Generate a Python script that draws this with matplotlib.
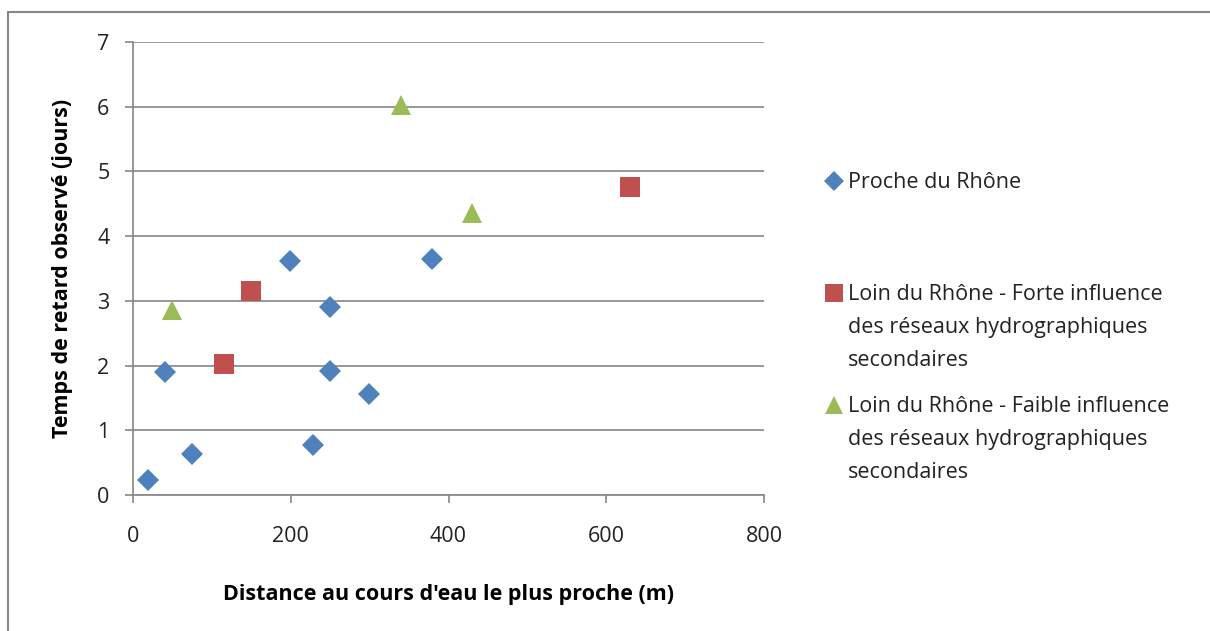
import matplotlib.pyplot as plt
from matplotlib.lines import Line2D
from matplotlib.patches import Rectangle

plt.rcParams['font.family'] = ['Open Sans', 'DejaVu Sans']

# Proche du Rhône
proche_x = [19, 41, 75, 199, 250, 250, 228, 299, 379]
proche_y = [0.23, 1.90, 0.63, 3.62, 2.90, 1.92, 0.77, 1.56, 3.64]
# Loin du Rhône - forte influence
forte_x = [115, 150, 630]
forte_y = [2.03, 3.15, 4.76]
# Loin du Rhône - faible influence
faible_x = [50, 340, 430]
faible_y = [2.86, 6.02, 4.36]

labels = [["Proche du Rhône"],
          ["Loin du Rhône - Forte influence", "des réseaux hydrographiques", "secondaires"],
          ["Loin du Rhône - Faible influence", "des réseaux hydrographiques", "secondaires"]]
colors = ['#4F81BD', '#C0504D', '#9BBB59']
markers = ['D', 's', '^']
sizes = [11, 14, 14]
fs = 15.5

W, H = 1210, 631
fig = plt.figure(figsize=(W / 100, H / 100), dpi=100)
ax = fig.add_axes([133 / W, 1 - 495 / H, (764 - 133) / W, (495 - 42) / H])

series = [(proche_x, proche_y), (forte_x, forte_y), (faible_x, faible_y)]
for (xs, ys), c, m, s in zip(series, colors, markers, sizes):
    ax.plot(xs, ys, linestyle='none', marker=m, markersize=s, color=c,
            markeredgewidth=0, zorder=3)

ax.set_xlim(0, 800)
ax.set_ylim(0, 7)
ax.set_xticks(range(0, 801, 200))
ax.set_yticks(range(0, 8))
ax.grid(axis='y', color='#868686', linewidth=1.2)
ax.set_axisbelow(True)
for side in ['top', 'right']:
    ax.spines[side].set_visible(False)
for side in ['left', 'bottom']:
    ax.spines[side].set_color('#868686')
    ax.spines[side].set_linewidth(1.2)
ax.tick_params(axis='both', colors='#868686', labelcolor='#222222', labelsize=fs,
               length=6, width=1.2)
ax.tick_params(axis='y', pad=11)
ax.tick_params(axis='x', pad=16)

ax.set_xlabel("Distance au cours d'eau le plus proche (m)", fontsize=fs,
              fontweight='bold', labelpad=27)
ax.set_ylabel("Temps de retard observé (jours)", fontsize=fs,
              fontweight='bold', labelpad=17)

# legend drawn by hand so the marker sits on the first text line
leg_y = [181, 293, 405]
for y, c, m, s, lines in zip(leg_y, colors, markers, sizes, labels):
    fig.add_artist(Line2D([834 / W], [1 - y / H], marker=m, color=c,
                          markersize=s * 0.9, markeredgewidth=0,
                          transform=fig.transFigure))
    for i, line in enumerate(lines):
        fig.text(848 / W, 1 - (y + 7 + 33 * i) / H, line, fontsize=fs,
                 color='#222222', va='baseline', ha='left')

# outer frame
fig.add_artist(Rectangle((8 / W, -0.1), 1.2, 1 - 12 / H + 0.1, fill=False,
                         edgecolor='#868686', linewidth=1.5,
                         transform=fig.transFigure))

fig.savefig('out.png', dpi=100)
